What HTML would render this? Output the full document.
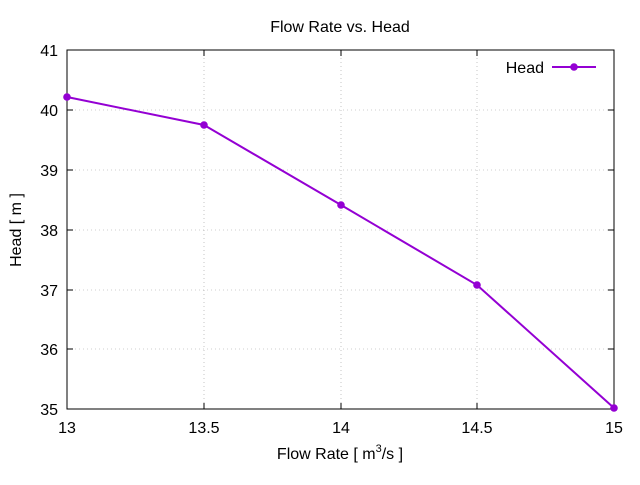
<!DOCTYPE html>
<html><head><style>body{margin:0;background:#fff}</style></head><body>
<svg width="640" height="480" xmlns="http://www.w3.org/2000/svg" font-family="Liberation Sans, sans-serif" font-size="16">
<rect width="640" height="480" fill="#fff"/>
<g stroke="#a0a0a0" stroke-width="0.6" stroke-dasharray="1,3">
<line x1="204" y1="50" x2="204" y2="409"/><line x1="341" y1="50" x2="341" y2="409"/><line x1="477" y1="50" x2="477" y2="409"/>
<line x1="67" y1="110" x2="614" y2="110"/><line x1="67" y1="170" x2="614" y2="170"/><line x1="67" y1="230" x2="614" y2="230"/><line x1="67" y1="290" x2="614" y2="290"/><line x1="67" y1="349" x2="614" y2="349"/>
</g>
<g stroke="#000" stroke-width="1">
<rect x="67" y="50" width="547" height="359" fill="none"/>
<path d="M67 110h6M67 170h6M67 230h6M67 290h6M67 349h6M614 110h-6M614 170h-6M614 230h-6M614 290h-6M614 349h-6M204 409v-6M341 409v-6M477 409v-6M204 50v6M341 50v6M477 50v6"/>
</g>
<g text-anchor="end">
<text x="58" y="56">41</text><text x="58" y="116">40</text><text x="58" y="176">39</text><text x="58" y="236">38</text><text x="58" y="296">37</text><text x="58" y="355">36</text><text x="58" y="415">35</text>
</g>
<g text-anchor="middle">
<text x="67" y="433">13</text><text x="204" y="433">13.5</text><text x="341" y="433">14</text><text x="477" y="433">14.5</text><text x="614" y="433">15</text>
<text x="340" y="32">Flow Rate vs. Head</text>
<text x="340" y="459">Flow Rate [ m<tspan font-size="11" dy="-7">3</tspan><tspan dy="7">/s ]</tspan></text>
<text transform="translate(21,230) rotate(-90)">Head [ m ]</text>
</g>
<text x="544" y="73" text-anchor="end">Head</text>
<g stroke="#9400d3" stroke-width="2" fill="none">
<line x1="552" y1="67" x2="596" y2="67"/>
<polyline points="67,97 204,125 341,205 477,285 614,408"/>
</g>
<g fill="#9400d3">
<circle cx="574" cy="67" r="3.8"/><circle cx="67" cy="97" r="3.8"/><circle cx="204" cy="125" r="3.8"/><circle cx="341" cy="205" r="3.8"/><circle cx="477" cy="285" r="3.8"/><circle cx="614" cy="408" r="3.8"/>
</g>
</svg>
</body></html>
